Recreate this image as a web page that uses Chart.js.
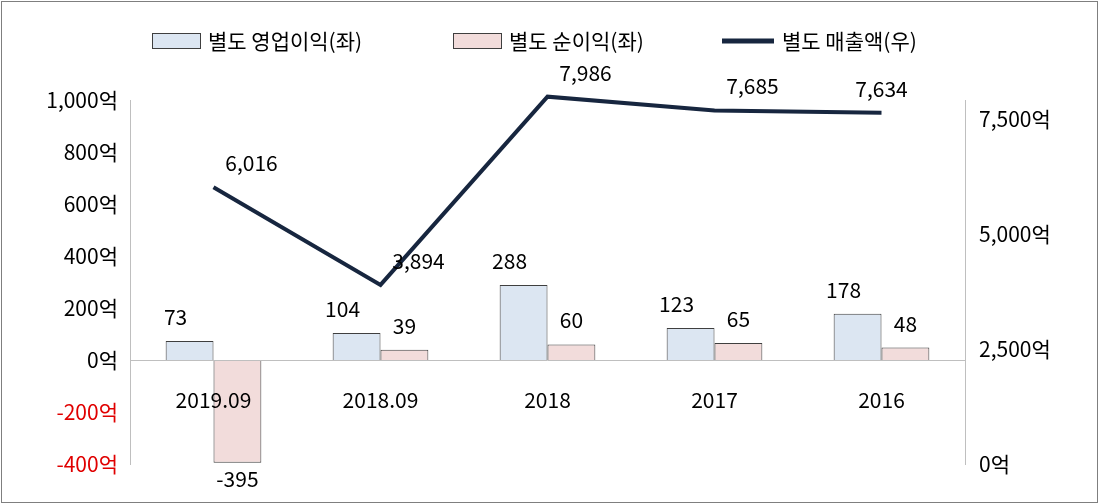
<!DOCTYPE html><html><head><meta charset="utf-8">
<script src="https://cdn.jsdelivr.net/npm/chart.js@4"></script>
<style>html,body{margin:0;padding:0;background:#fff}#w{width:1099px;height:504px;position:relative}</style></head><body>
<div id="w"><canvas id="c" width="1099" height="504"></canvas></div>
<script>
const categories=['2019.09','2018.09','2018','2017','2016'];
const opProfit=[73,104,288,123,178];
const netProfit=[-395,39,60,65,48];
const revenue=[6016,3894,7986,7685,7634];
const leftTicks=[-400,-200,0,200,400,600,800,1000];
const rightTicks=[0,2500,5000,7500];
const F='"Noto Sans CJK KR","Noto Sans",sans-serif';
const fmt=v=>v.toLocaleString('en-US');
const plug={id:'deco',
afterDraw(ch){const c=ch.ctx,ca=ch.chartArea,y=ch.scales.y,x=ch.scales.x;
c.save();
c.strokeStyle='#bfbfbf';c.lineWidth=1;
c.beginPath();const z=Math.round(y.getPixelForValue(0))+.5;c.moveTo(ca.left,z);c.lineTo(ca.right,z);c.stroke();
c.strokeStyle='#7f7f7f';c.strokeRect(1.5,1.5,1096,501);
c.font='21px '+F;c.fillStyle='#000';c.textAlign='center';c.textBaseline='middle';
categories.forEach((t,i)=>c.fillText(t,x.getPixelForValue(i),z+40));
[0,1].forEach(d=>{const m=ch.getDatasetMeta(d);m.data.forEach((b,i)=>{const v=ch.data.datasets[d].data[i];
c.fillText(fmt(v),b.x-(d==0?14:0),v<0?b.y+16:b.y-24);});});
const lm=ch.getDatasetMeta(2);lm.data.forEach((p,i)=>{c.fillText(fmt(revenue[i]),p.x+(i<4?38:0),p.y-24);});
const items=[['box','#dce6f2','별도 영업이익(좌)',152],['box','#f2dcdb','별도 순이익(좌)',453],['line','#17263f','별도 매출액(우)',722]];
c.textAlign='left';
items.forEach(([k,col,t,lx])=>{if(k=='box'){c.fillStyle=col;c.fillRect(lx,33,48,15);c.strokeStyle='#3f3f3f';c.lineWidth=1;c.strokeRect(lx+.5,33.5,48,15);c.fillStyle='#000';c.fillText(t,lx+56,41);}
else{c.strokeStyle=col;c.lineWidth=5;c.beginPath();c.moveTo(lx,41);c.lineTo(lx+52,41);c.stroke();c.fillStyle='#000';c.fillText(t,lx+60,41);}});
c.restore();}};
new Chart(document.getElementById('c'),{data:{labels:categories,datasets:[
{type:'bar',data:opProfit,backgroundColor:'#dce6f2',borderColor:'#3f3f3f',borderWidth:1,yAxisID:'y',categoryPercentage:0.573,barPercentage:1,order:2},
{type:'bar',data:netProfit,backgroundColor:'#f2dcdb',borderColor:'#3f3f3f',borderWidth:1,yAxisID:'y',categoryPercentage:0.573,barPercentage:1,order:2},
{type:'line',data:revenue,borderColor:'#17263f',borderWidth:4,pointRadius:0,yAxisID:'y2',order:1,tension:0,clip:false}]},
options:{responsive:false,animation:false,layout:{padding:{top:100,bottom:40}},
plugins:{legend:{display:false},tooltip:{enabled:false}},
scales:{x:{display:false},
y:{position:'left',min:-400,max:1000,afterBuildTicks:a=>{a.ticks=leftTicks.map(v=>({value:v}))},afterFit:a=>{a.width=130},
grid:{display:false},border:{color:'#bfbfbf'},
ticks:{font:{family:F,size:21},color:c=>c.tick.value<0?'#e00000':'#000',callback:v=>fmt(v)+'억',padding:4}},
y2:{position:'right',min:0,max:7913,afterBuildTicks:a=>{a.ticks=rightTicks.map(v=>({value:v}))},afterFit:a=>{a.width=134},
grid:{display:false},border:{color:'#bfbfbf'},ticks:{font:{family:F,size:21},color:'#000',callback:v=>fmt(v)+'억',padding:6}}}},
plugins:[plug]});
</script></body></html>
